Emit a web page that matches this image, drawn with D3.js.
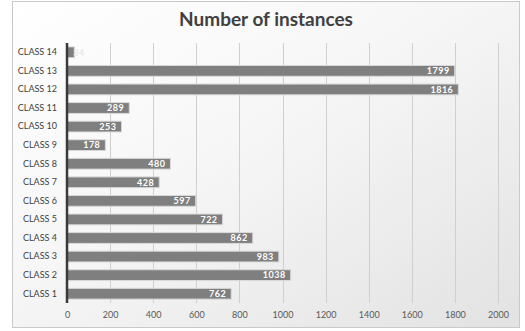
<!DOCTYPE html>
<html>
<head>
<meta charset="utf-8">
<script src="https://cdn.jsdelivr.net/npm/d3@7"></script>
<style>
  body { margin: 0; background: #fff; }
  svg { display: block; font-family: Lato, "Open Sans", sans-serif; }
</style>
</head>
<body>
<svg id="chart" width="525" height="331"></svg>
<script>
// chart data
var categories = ['CLASS 1', 'CLASS 2', 'CLASS 3', 'CLASS 4', 'CLASS 5', 'CLASS 6', 'CLASS 7',
  'CLASS 8', 'CLASS 9', 'CLASS 10', 'CLASS 11', 'CLASS 12', 'CLASS 13', 'CLASS 14'];
var instances = [762, 1038, 983, 862, 722, 597, 428, 480, 178, 253, 289, 1816, 1799, 34];
var xTicks = [0, 200, 400, 600, 800, 1000, 1200, 1400, 1600, 1800, 2000];

var svg = d3.select('#chart');
var pLeft = 67, pRight = 498, pTop = 43, pBottom = 303;

// background with soft gradient, like the office chart frame
var defs = svg.append('defs');
var grad = defs.append('linearGradient').attr('id', 'bg')
  .attr('x1', '0').attr('y1', '0').attr('x2', '1').attr('y2', '1');
grad.append('stop').attr('offset', '0%').attr('stop-color', '#ffffff');
grad.append('stop').attr('offset', '45%').attr('stop-color', '#f6f6f6');
grad.append('stop').attr('offset', '100%').attr('stop-color', '#e2e2e2');

svg.append('rect')
  .attr('x', 12.5).attr('y', 1.5).attr('width', 507).attr('height', 326)
  .attr('fill', 'url(#bg)').attr('stroke', '#c9c9c9');

svg.append('text')
  .attr('x', 266).attr('y', 26)
  .attr('text-anchor', 'middle')
  .attr('font-size', 19).attr('font-weight', 'bold')
  .attr('fill', '#404040')
  .text('Number of instances');

var x = d3.scaleLinear().domain([0, 2000]).range([pLeft, pRight]);
// class 14 on top
var y = d3.scaleBand().domain(categories.slice().reverse()).range([pTop, pBottom]).paddingInner(0.42).paddingOuter(0.21);

// grid
svg.append('g').selectAll('line')
  .data(xTicks.slice(1))
  .enter().append('line')
  .attr('x1', function (d) { return Math.round(x(d)) + 0.5; })
  .attr('x2', function (d) { return Math.round(x(d)) + 0.5; })
  .attr('y1', pTop).attr('y2', pBottom)
  .attr('stroke', '#cfcfcf').attr('stroke-width', 1);

// x axis labels
var xAxis = d3.axisBottom(x).tickValues(xTicks).tickFormat(d3.format('d')).tickSize(0).tickPadding(9);
var gx = svg.append('g').attr('transform', 'translate(0,' + pBottom + ')').call(xAxis);
gx.select('.domain').remove();
gx.selectAll('text').attr('font-size', 9).attr('fill', '#595959').attr('font-family', 'Lato, sans-serif');

// y axis labels
var yAxis = d3.axisLeft(y).tickSize(0).tickPadding(10);
var gy = svg.append('g').attr('transform', 'translate(' + pLeft + ',0)').call(yAxis);
gy.select('.domain').remove();
gy.selectAll('text').attr('font-size', 9).attr('fill', '#404040').attr('font-family', 'Lato, sans-serif');

var data = categories.map(function (c, i) { return {cat: c, val: instances[i]}; });

// bars
svg.append('g').selectAll('rect')
  .data(data)
  .enter().append('rect')
  .attr('x', x(0))
  .attr('y', function (d) { return y(d.cat); })
  .attr('width', function (d) { return x(d.val) - x(0); })
  .attr('height', y.bandwidth())
  .attr('fill', '#7f7f7f')
  .attr('stroke', '#d9d9d9').attr('stroke-width', 1);

// value labels
svg.append('g').selectAll('text')
  .data(data)
  .enter().append('text')
  .attr('x', function (d) { return x(d.val) - x(0) < 30 ? x(d.val) - 1 : x(d.val) - 5; })
  .attr('y', function (d) { return y(d.cat) + y.bandwidth() / 2; })
  .attr('dy', '0.36em')
  .attr('text-anchor', function (d) { return x(d.val) - x(0) < 30 ? 'start' : 'end'; })
  .attr('font-size', 9).attr('font-weight', 'bold')
  .attr('letter-spacing', 0.5)
  .attr('fill', function (d) { return x(d.val) - x(0) < 30 ? '#e8e8e8' : '#ffffff'; })
  .text(function (d) { return d.val; });

// zero line
svg.append('line')
  .attr('x1', x(0)).attr('x2', x(0))
  .attr('y1', pTop).attr('y2', pBottom)
  .attr('stroke', '#3a3a3a').attr('stroke-width', 2.5);
</script>
</body>
</html>
